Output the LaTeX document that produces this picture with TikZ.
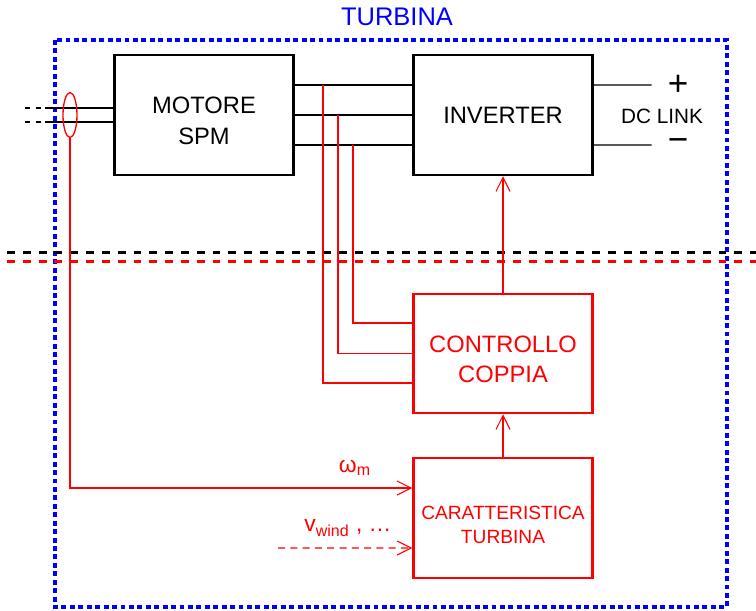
\documentclass[tikz,border=0pt]{standalone}
\usepackage{fontspec}
\setmainfont{Liberation Sans}
\usetikzlibrary{arrows.meta, positioning, shapes.geometric}

\begin{document}
\begin{tikzpicture}[
    x=0.02cm, y=-0.02cm,
    block/.style={
        draw,
        line width=1.4pt,
        minimum width=3.58cm,
        minimum height=2.4cm,
        align=center,
        font=\fontsize{13.5}{17.5}\selectfont
    },
    redblock/.style={block, draw=red, text=red},
    twoline/.style={text height=#1},
    wire/.style={line width=0.75pt},
    sig/.style={red, line width=0.6pt},
    arrow/.style={sig, -{Straight Barb[length=8pt, width=8pt]}},
    split/.style={line width=1.7pt, dash pattern=on 4.5pt off 4.5pt}
]
\useasboundingbox (0,0) rectangle (756,610);

% turbine border
\draw[blue, line width=1.8pt, dash pattern=on 2.8pt off 2pt] (55,40) rectangle (727,607);
\node[text=blue, font=\fontsize{14.5}{17}\selectfont] (title) at (397,17) {TURBINA};

% power part
\node[block, twoline=33.5pt] (motor) at (204,115) {MOTORE \\ SPM};
\node[block] (inverter) at (503,115) {INVERTER};

\draw[wire] ([yshift=0.6cm]motor.east) -- ([yshift=0.6cm]inverter.west);
\draw[wire] (motor.east) -- (inverter.west);
\draw[wire] ([yshift=-0.6cm]motor.east) -- ([yshift=-0.6cm]inverter.west);

\coordinate (la) at (25,108);
\coordinate (ma) at (45,108);
\coordinate (lb) at (25,122);
\coordinate (mb) at (45,122);
\draw[wire, dash pattern=on 3pt off 3pt] (la) -- (ma);
\draw[wire, dash pattern=on 3pt off 3pt] (lb) -- (mb);
\draw[wire] (ma) -- (ma -| motor.west);
\draw[wire] (mb) -- (mb -| motor.west);
\node[ellipse, draw=red, line width=0.75pt, minimum width=0.28cm, minimum height=0.9cm, inner sep=0pt] (sensor) at (70,115) {};

% DC link
\node[font=\fontsize{20}{20}\selectfont, inner sep=0pt] (plus) at (678,85) {+};
\node[font=\fontsize{20}{20}\selectfont, inner sep=0pt] (minus) at (678,145) {−};
\node[font=\fontsize{11.8}{14}\selectfont, inner sep=0pt] (dclink) at (662,116) {DC LINK};
\draw[wire, shorten >=9pt] ([yshift=0.6cm]inverter.east) -- (plus.west |- 0,85);
\draw[wire, shorten >=9pt] ([yshift=-0.6cm]inverter.east) -- (minus.west |- 0,145);

% separation
\draw[split, black] (7,252) -- (756,252);
\draw[split, red] (7,261) -- (756,261);

% control part
\node[redblock, twoline=33.5pt, minimum height=2.38cm] (controllo) at (503,353.5) {CONTROLLO \\ COPPIA};
\node[redblock, twoline=29.3pt, font=\fontsize{10.9}{14}\selectfont] (caratt) at (503,518) {CARATTERISTICA \\ TURBINA};

\coordinate (ta) at (323,85);
\coordinate (tb) at (338,115);
\coordinate (tc) at (353,145);
\draw[sig] (ta) |- ([yshift=-0.59cm]controllo.west);
\draw[sig] (tb) |- (controllo.west);
\draw[sig] (tc) |- ([yshift=0.61cm]controllo.west);

\draw[arrow] (controllo.north) -- (inverter.south);
\draw[arrow] (caratt.north) -- (controllo.south);
\draw[arrow] (sensor.south) |- ([yshift=0.6cm]caratt.west);
\node[text=red, font=\fontsize{13}{15}\selectfont] (wm) at (355,468) {ω\textsubscript{m}};

\coordinate (vin) at (278,548);
\draw[arrow, dash pattern=on 4pt off 3pt] (vin) -- ([yshift=-0.6cm]caratt.west);
\node[text=red, font=\fontsize{13}{15}\selectfont] (vw) at (348,528) {v\textsubscript{wind} , …};
\end{tikzpicture}
\end{document}
